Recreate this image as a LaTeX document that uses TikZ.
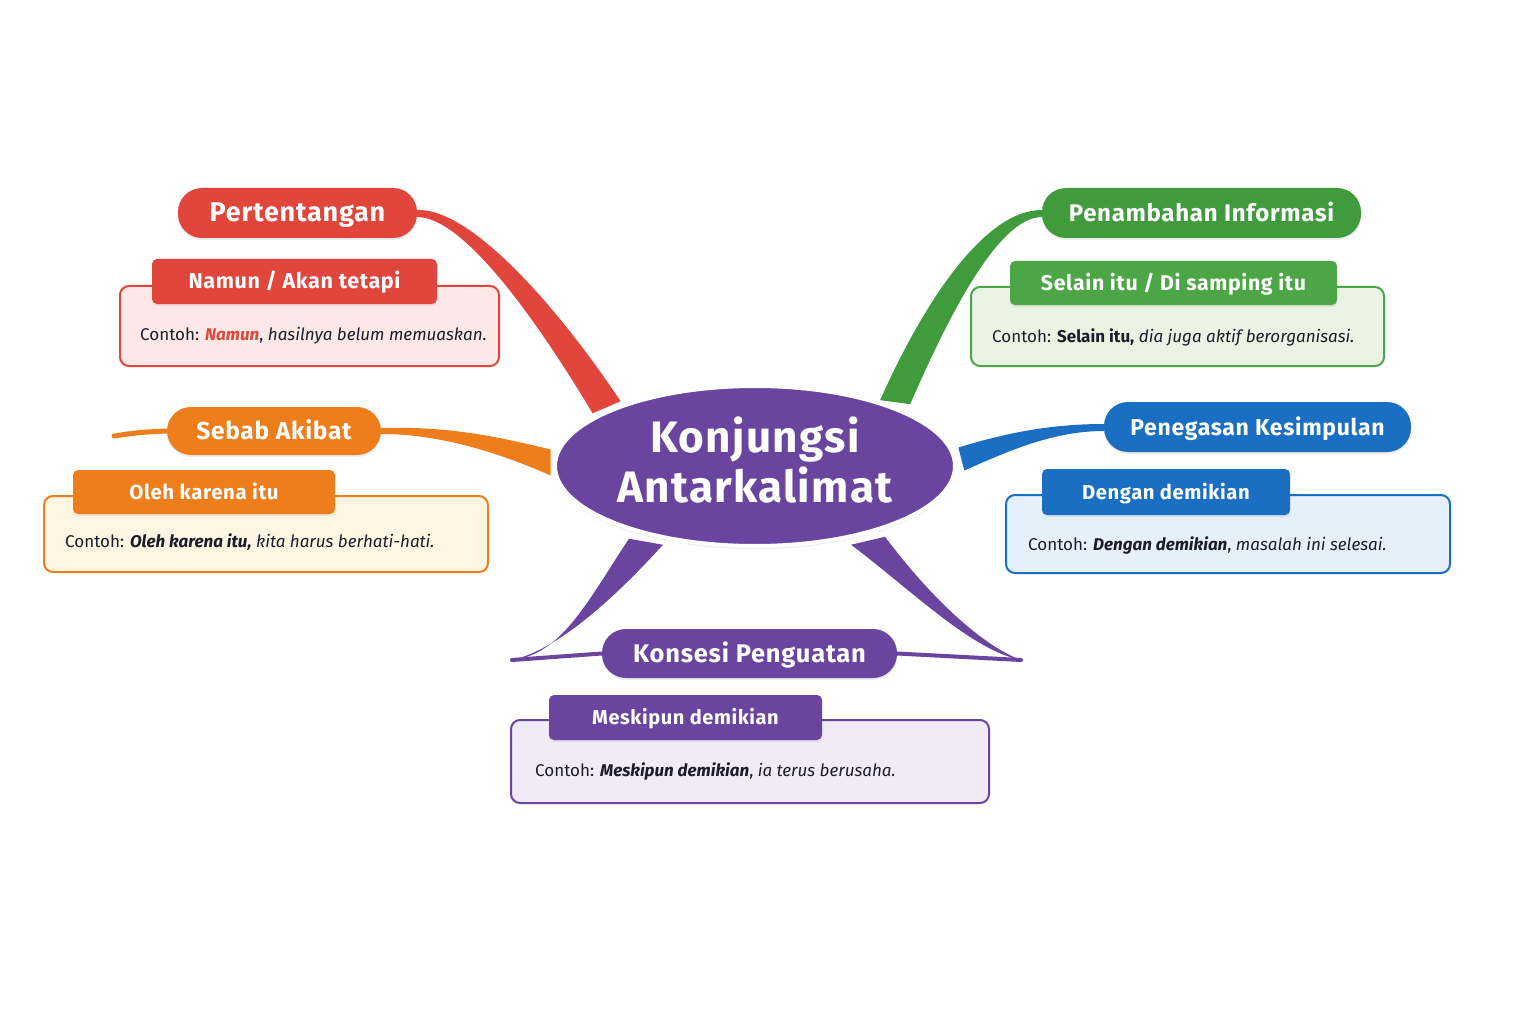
\documentclass[tikz,border=0pt]{standalone}
\usepackage{fontspec}
\setmainfont{Fira Sans}
\newfontfamily\kjwide[LetterSpace=3]{Fira Sans}
\usetikzlibrary{calc,shadows,backgrounds,shapes.geometric}
\definecolor{kjred}{HTML}{E0463C}
\definecolor{kjredlight}{HTML}{FCE9E7}
\definecolor{kjgreen}{HTML}{3F9B3B}
\definecolor{kjgreenhead}{HTML}{4DA646}
\definecolor{kjgreenlight}{HTML}{E9F4E5}
\definecolor{kjorange}{HTML}{EE7E1B}
\definecolor{kjorangelight}{HTML}{FEF5E3}
\definecolor{kjblue}{HTML}{1B6FC2}
\definecolor{kjbluelight}{HTML}{E6F0FA}
\definecolor{kjpurple}{HTML}{6A45A0}
\definecolor{kjpurplelight}{HTML}{F0EBF7}
\definecolor{kjtext}{HTML}{1C1C2A}

\begin{document}
\begin{tikzpicture}[x=1pt,y=-1pt,
  pill/.style 2 args={fill=#1, rounded corners=24pt, minimum height=50pt, inner sep=0pt,
    text height=17pt, text depth=0pt,
    text=white, font=\kjwide\fontsize{#2}{#2}\selectfont\bfseries,
    drop shadow={opacity=0.15,shadow xshift=0pt,shadow yshift=-2pt}},
  head/.style 2 args={fill=#1, rounded corners=5pt, minimum height=45pt, inner sep=0pt,
    text height=14.5pt, text depth=0pt,
    text=white, font=\kjwide\fontsize{#2}{#2}\selectfont\bfseries,
    drop shadow={opacity=0.15,shadow xshift=0pt,shadow yshift=-2pt}},
  card/.style={draw=#1, line width=2pt, rounded corners=9pt, inner sep=0pt},
  contoh/.style={anchor=west, inner sep=0pt, text=kjtext, font=\fontsize{17}{20}\selectfont}
]
\useasboundingbox (0,0) rectangle (1536,1024);
\begin{scope}[on background layer]
\fill[white] (0,0) rectangle (1536,1024);
\end{scope}

% Centre
\node[ellipse, fill=kjpurple, draw=white, line width=4pt, minimum width=400pt, minimum height=160pt,
  drop shadow={opacity=0.12,shadow xshift=0pt,shadow yshift=-3pt}] (centre) at (755,466) {};
\node[text=white, align=center, font=\kjwide\fontsize{44}{50}\selectfont\bfseries, yshift=6pt] (centrelabel) at (centre.center) {Konjungsi\\Antarkalimat};

% Pertentangan
\node[pill={kjred}{27}, minimum width=239pt] (pert) at (297.5,213) {Pertentangan};
\node[card=kjred, fill=kjredlight, minimum width=379pt, minimum height=80pt] (namunbody) at (309.5,326) {};
\node[head={kjred}{21.5}, minimum width=285pt] (namun) at (294.5,281.5) {Namun / Akan tetapi};
\node[contoh] (namunex) at (140,336) {Contoh: \textcolor{kjred}{\textbf{\textit{Namun}}}, \textit{hasilnya belum memuaskan.}};

% Penambahan Informasi
\node[pill={kjgreen}{24}, minimum width=319pt] (tamb) at (1201.5,213) {Penambahan Informasi};
\node[card=kjgreenhead, fill=kjgreenlight, minimum width=413pt, minimum height=79pt] (selainbody) at (1177.5,326.5) {};
\node[head={kjgreenhead}{21.3}, minimum width=327pt, minimum height=44pt] (selain) at (1173.5,283) {Selain itu\ / Di samping itu};
\node[contoh] (selainex) at (992,337) {Contoh: \textbf{Selain itu,} \textit{dia juga aktif berorganisasi.}};

% Sebab Akibat
\node[pill={kjorange}{24.5}, minimum width=214pt, minimum height=48pt] (sebab) at (274,431) {Sebab Akibat};
\node[card=kjorange, fill=kjorangelight, minimum width=444pt, minimum height=76pt] (olehbody) at (266,534) {};
\node[head={kjorange}{20.4}, minimum width=262pt, minimum height=44pt] (oleh) at (204,492) {Oleh karena itu};
\node[contoh] (olehex) at (65,542) {Contoh: \textbf{\textit{Oleh karena itu,}} \textit{kita harus berhati-hati.}};
\coordinate (tailL) at (114,436);

% Penegasan Kesimpulan
\node[pill={kjblue}{23}, minimum width=307pt] (teg) at (1257.5,427) {Penegasan Kesimpulan};
\node[card=kjblue, fill=kjbluelight, minimum width=444pt, minimum height=78pt] (denganbody) at (1228,534) {};
\node[head={kjblue}{20.2}, minimum width=248pt, minimum height=46pt] (dengan) at (1166,492) {Dengan demikian};
\node[contoh] (denganex) at (1028,546) {Contoh: \textbf{\textit{Dengan demikian}}, \textit{masalah ini selesai.}};

% Konsesi Penguatan
\node[pill={kjpurple}{25.5}, minimum width=295pt, minimum height=49pt] (kons) at (749.5,653.5) {Konsesi Penguatan};
\node[card=kjpurple, fill=kjpurplelight, minimum width=478pt, minimum height=83pt] (meskibody) at (750,761.5) {};
\node[head={kjpurple}{20}, minimum width=273pt] (meski) at (685.5,717.5) {Meskipun demikian};
\node[contoh] (meskiex) at (535,772) {Contoh: \textbf{\textit{Meskipun demikian}}, \textit{ia terus berusaha.}};
\coordinate (konsL) at (512,660);
\coordinate (konsR) at (1021,660);

% Branches
\begin{scope}[on background layer]
\fill[kjred] ($(pert.east)+(0,-3)$) .. controls +(55,-2) and +(-60,-90) .. ($(centre.160)+(16,-10)$)
  -- ($(centre.160)+(-12,2)$) .. controls +(-60,-100) and +(45,0) .. ($(pert.east)+(0,4)$) -- cycle;
\fill[kjgreen] ($(tamb.west)+(0,-3)$) .. controls +(-60,0) and +(40,-90) .. ($(centre.22)+(-18,-8)$)
  -- ($(centre.22)+(12,-4)$) .. controls +(35,-80) and +(-45,0) .. ($(tamb.west)+(0,4)$) -- cycle;
\fill[kjorange] ($(sebab.east)+(0,-3)$) .. controls +(70,-2) and +(-50,-12) .. ($(centre.177)+(-4,-6)$)
  -- ($(centre.177)+(-4,20)$) .. controls +(-50,-22) and +(60,0) .. ($(sebab.east)+(0,3)$) -- cycle;
\draw[kjorange, line width=5pt, line cap=round] (sebab.west) .. controls +(-25,1) and +(20,-3) .. (tailL);
\fill[kjblue] ($(teg.west)+(0,-3)$) .. controls +(-60,0) and +(40,-12) .. ($(centre.3)+(3,-8)$)
  -- ($(centre.3)+(9,15)$) .. controls +(45,-20) and +(-50,0) .. ($(teg.west)+(0,4)$) -- cycle;
\fill[kjpurple] ($(centre.-148)+(-16,4)$) .. controls +(-40,60) and +(50,-5) .. (konsL)
  .. controls +(45,-10) and +(-50,55) .. ($(centre.-148)+(18,10)$) -- cycle;
\draw[kjpurple, line width=4pt, line cap=round] (konsL) -- (kons.west);
\fill[kjpurple] ($(centre.-32)+(-14,10)$) .. controls +(60,45) and +(-50,-10) .. (konsR)
  .. controls +(-40,-15) and +(45,60) .. ($(centre.-32)+(20,2)$) -- cycle;
\draw[kjpurple, line width=4pt, line cap=round] (konsR) -- (kons.east);
\end{scope}
\end{tikzpicture}
\end{document}
